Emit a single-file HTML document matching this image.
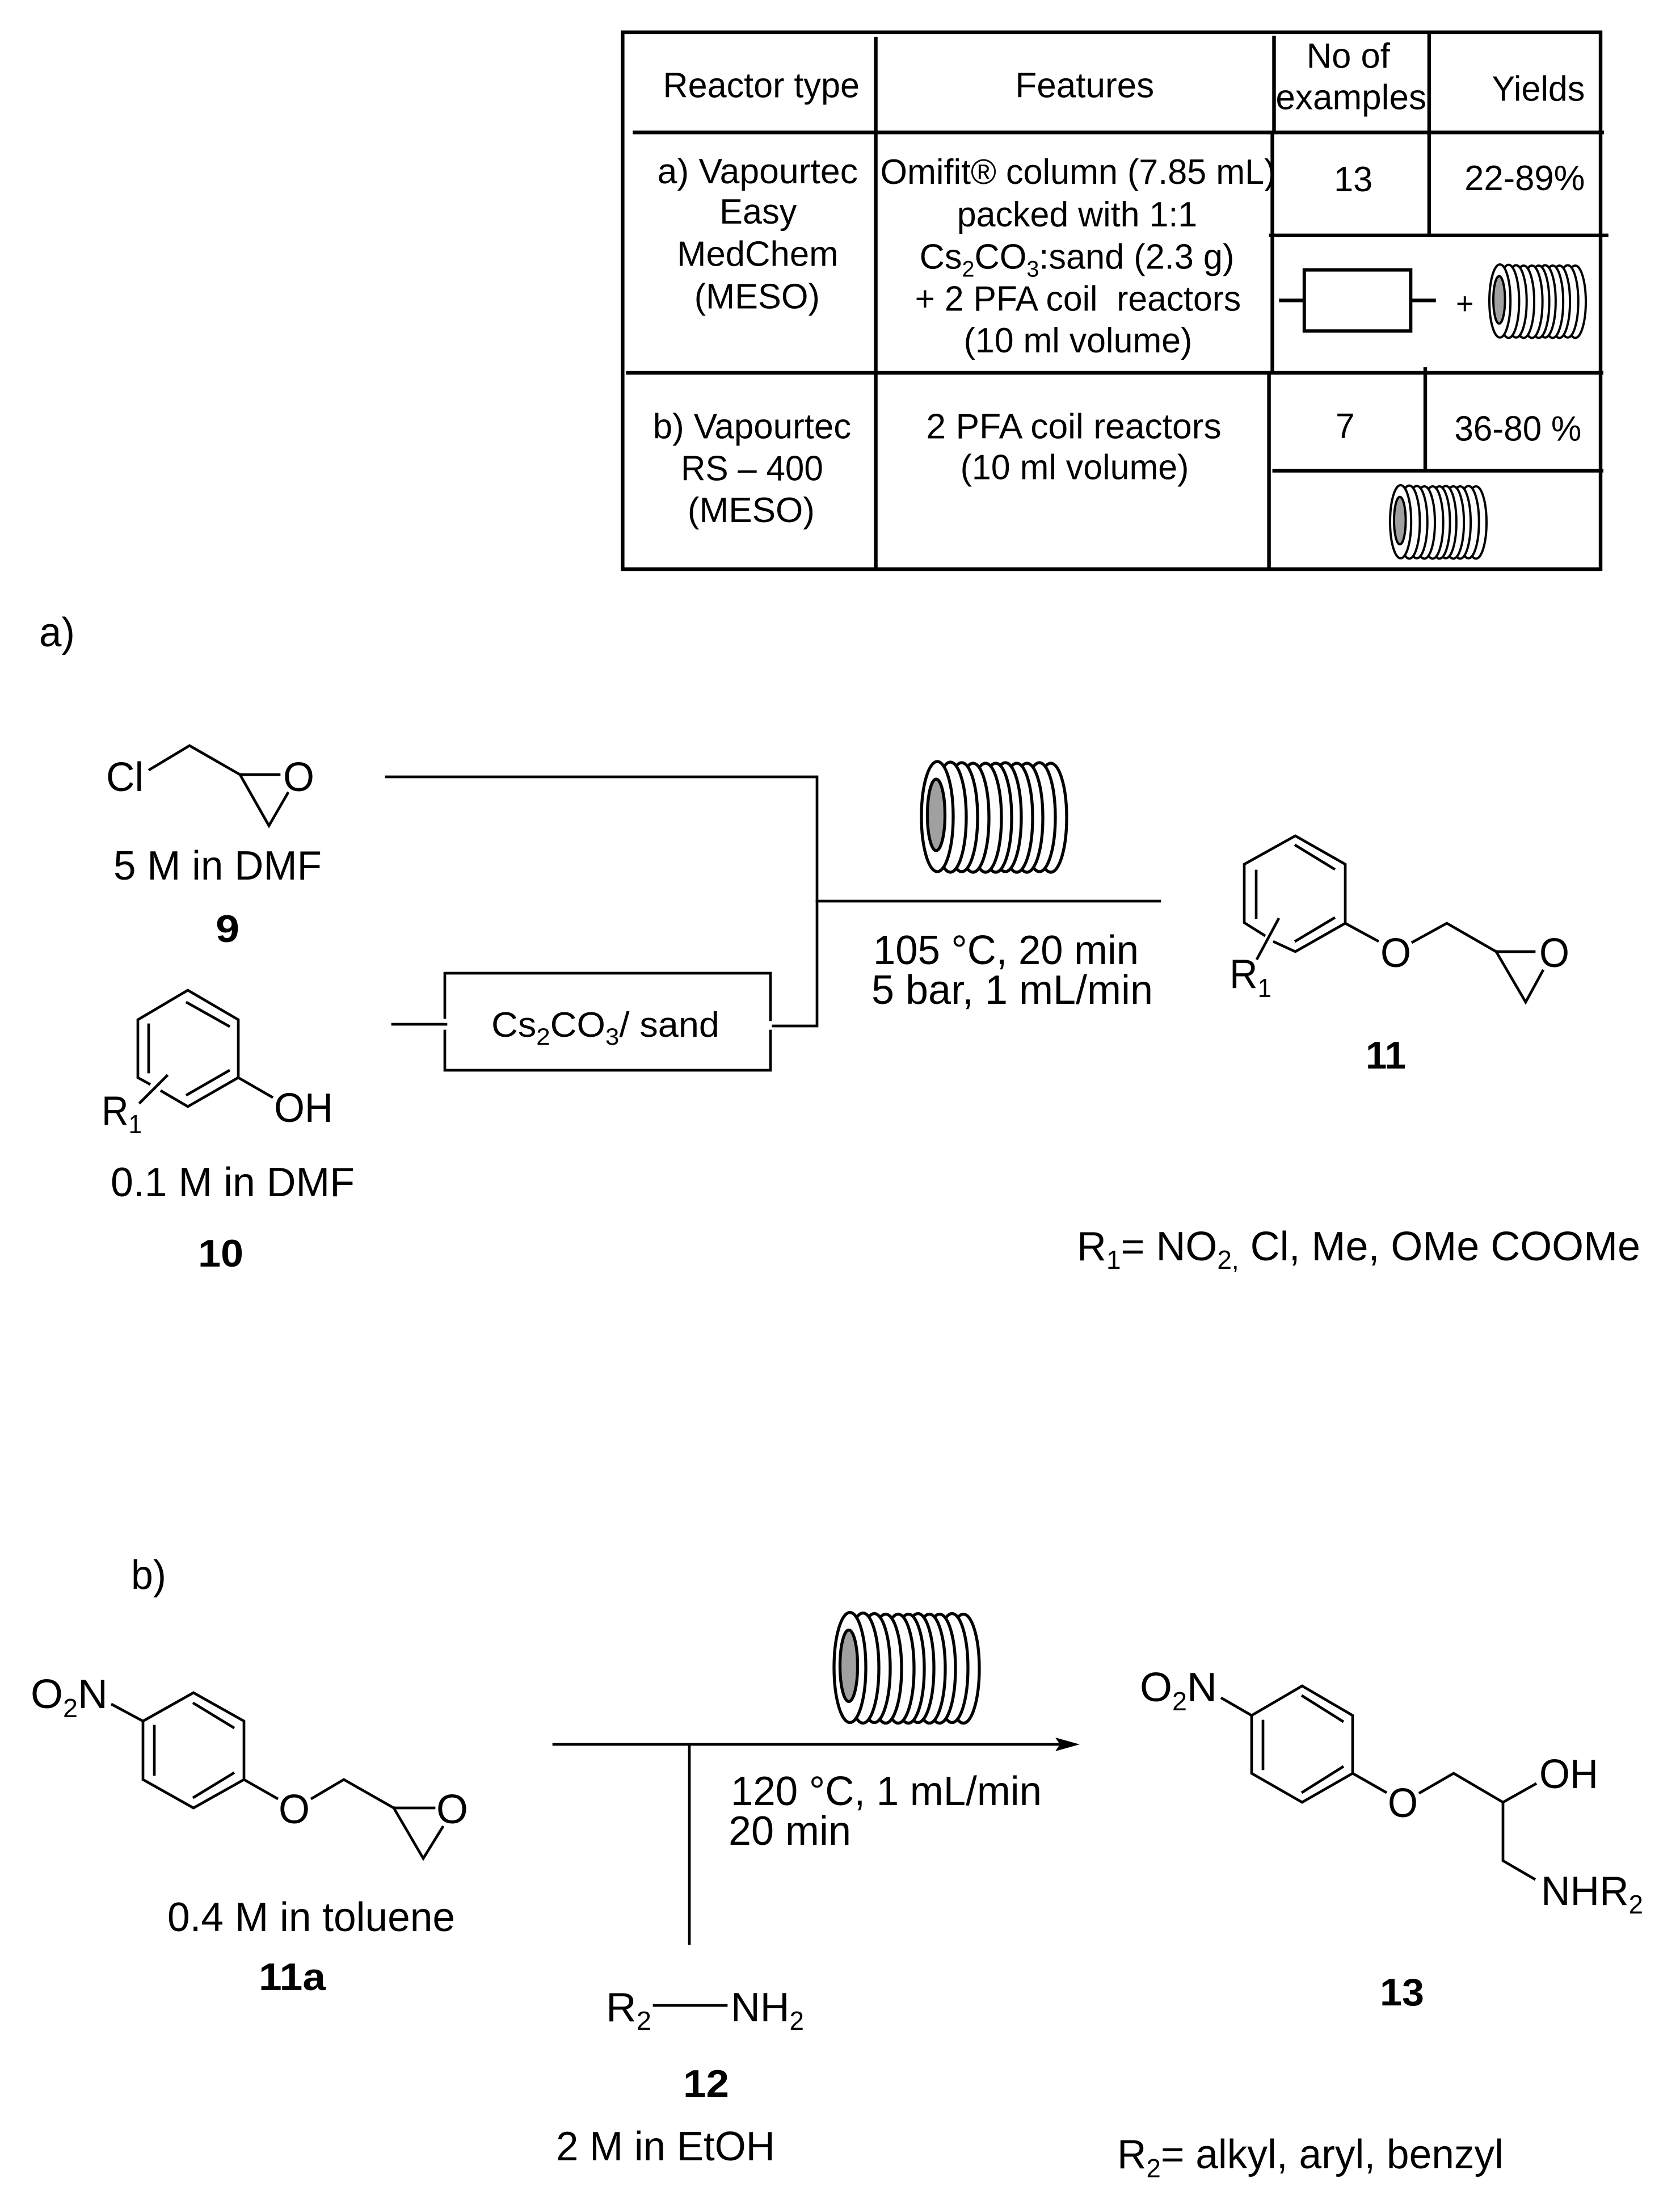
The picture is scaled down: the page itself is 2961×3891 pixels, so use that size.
<!DOCTYPE html>
<html><head><meta charset="utf-8"><style>
html,body{margin:0;padding:0;background:#fff}
svg{display:block}
text{font-family:"Liberation Sans",sans-serif;fill:#000;white-space:pre}
.t{font-size:62px}.m{font-size:72px}.b{font-size:68px;font-weight:bold}.s{font-size:62px}
line,polyline,polygon.l,rect.l{stroke:#000;stroke-width:4.7;fill:none;stroke-linecap:square;stroke-linejoin:miter}
.tb line{stroke-width:6.5;stroke-linecap:butt}
.c ellipse{fill:#fff;stroke:#000}
</style></head><body>
<svg xmlns="http://www.w3.org/2000/svg" width="2961" height="3891" viewBox="0 0 2961 3891">
<defs>
<g id="coil" class="c">
<ellipse cx="1852" cy="1441" rx="28" ry="96"/>
<ellipse cx="1832" cy="1440" rx="28" ry="96"/>
<ellipse cx="1810" cy="1441" rx="28" ry="96"/>
<ellipse cx="1792" cy="1441" rx="28" ry="96"/>
<ellipse cx="1772" cy="1440" rx="28" ry="96"/>
<ellipse cx="1755" cy="1441" rx="28" ry="96"/>
<ellipse cx="1737" cy="1441" rx="28" ry="96"/>
<ellipse cx="1715" cy="1441" rx="28" ry="96"/>
<ellipse cx="1695" cy="1440" rx="28" ry="96"/>
<ellipse cx="1675" cy="1440" rx="28" ry="97"/>
<ellipse cx="1652" cy="1439" rx="28" ry="97"/>
<ellipse cx="1650" cy="1436" rx="15.5" ry="63" style="fill:#a0a0a0"/>
</g>
</defs>
<rect width="2961" height="3891" fill="#fff"/>

<!-- table -->
<g transform="translate(1050 30) scale(.98718 .9969) translate(-1050 -30)">
<g class="tb">
<line x1="1095" y1="57" x2="2847" y2="57"/>
<line x1="1095" y1="1006" x2="2847" y2="1006"/>
<line x1="1098" y1="54" x2="1098" y2="1009"/>
<line x1="2844" y1="54" x2="2844" y2="1009"/>
<line x1="1550" y1="65" x2="1550" y2="1006"/>
<line x1="2261" y1="63" x2="2261" y2="234"/>
<line x1="2258" y1="234" x2="2258" y2="659"/>
<line x1="2252" y1="659" x2="2252" y2="1006"/>
<line x1="2538" y1="57" x2="2538" y2="416"/>
<line x1="2531" y1="649" x2="2531" y2="832"/>
<line x1="1116" y1="234" x2="2850" y2="234"/>
<line x1="2252" y1="416" x2="2858" y2="416"/>
<line x1="1104" y1="659" x2="2849" y2="659"/>
<line x1="2258" y1="832" x2="2849" y2="832"/>
<rect class="l" x="2315" y="477" width="190" height="108" style="stroke-width:6"/>
<line x1="2270" y1="531" x2="2315" y2="531"/>
<line x1="2505" y1="531" x2="2550" y2="531"/>
</g>
<g class="t">
<text x="1170" y="172" textLength="351" lengthAdjust="spacingAndGlyphs">Reactor type</text>
<text x="1799" y="172" textLength="248" lengthAdjust="spacingAndGlyphs">Features</text>
<text x="2319" y="120" textLength="149" lengthAdjust="spacingAndGlyphs">No of</text>
<text x="2264" y="193" textLength="269" lengthAdjust="spacingAndGlyphs">examples</text>
<text x="2650" y="178" textLength="166" lengthAdjust="spacingAndGlyphs">Yields</text>
<text x="1160" y="324" textLength="358" lengthAdjust="spacingAndGlyphs">a) Vapourtec</text>
<text x="1271" y="395" textLength="138" lengthAdjust="spacingAndGlyphs">Easy</text>
<text x="1195" y="470" textLength="288" lengthAdjust="spacingAndGlyphs">MedChem</text>
<text x="1226" y="545" textLength="224" lengthAdjust="spacingAndGlyphs">(MESO)</text>
<text x="1558" y="325" textLength="706" lengthAdjust="spacingAndGlyphs">Omifit® column (7.85 mL)</text>
<text x="1695" y="400" textLength="429" lengthAdjust="spacingAndGlyphs">packed with 1:1</text>
<text x="1628" y="475" textLength="562" lengthAdjust="spacingAndGlyphs">Cs<tspan font-size="40" dy="14">2</tspan><tspan dy="-14">CO</tspan><tspan font-size="40" dy="14">3</tspan><tspan dy="-14">:sand (2.3 g)</tspan></text>
<text x="1620" y="549" textLength="582" lengthAdjust="spacingAndGlyphs">+ 2 PFA coil  reactors</text>
<text x="1707" y="623" textLength="408" lengthAdjust="spacingAndGlyphs">(10 ml volume)</text>
<text x="2368" y="338" textLength="69" lengthAdjust="spacingAndGlyphs">13</text>
<text x="2601" y="336" textLength="215" lengthAdjust="spacingAndGlyphs">22-89%</text>
<text x="1152" y="775" textLength="354" lengthAdjust="spacingAndGlyphs">b) Vapourtec</text>
<text x="1202" y="849" textLength="254" lengthAdjust="spacingAndGlyphs">RS – 400</text>
<text x="1214" y="923" textLength="227" lengthAdjust="spacingAndGlyphs">(MESO)</text>
<text x="1640" y="775" textLength="527" lengthAdjust="spacingAndGlyphs">2 PFA coil reactors</text>
<text x="1701" y="847" textLength="408" lengthAdjust="spacingAndGlyphs">(10 ml volume)</text>
<text x="2371" y="774" textLength="34" lengthAdjust="spacingAndGlyphs">7</text>
<text x="2583" y="779" textLength="227" lengthAdjust="spacingAndGlyphs">36-80 %</text>
</g>
</g>
<text x="2566" y="553" style="font-size:54px">+</text>
<g transform="translate(2625 466) scale(.664) translate(-1624 -1342)"><use href="#coil" style="stroke-width:6"/></g>
<g transform="translate(2450 855) scale(.664) translate(-1624 -1342)"><use href="#coil" style="stroke-width:6"/></g>

<!-- a) -->
<g class="m">
<text x="69" y="1139" textLength="63" lengthAdjust="spacingAndGlyphs">a)</text>
<text x="187" y="1394" textLength="66" lengthAdjust="spacingAndGlyphs">Cl</text>
<text x="499" y="1394" textLength="55" lengthAdjust="spacingAndGlyphs">O</text>
<text x="200" y="1550" textLength="367" lengthAdjust="spacingAndGlyphs">5 M in DMF</text>
<text x="483" y="1977" textLength="104" lengthAdjust="spacingAndGlyphs">OH</text>
<text x="179" y="1982" textLength="71" lengthAdjust="spacingAndGlyphs">R<tspan font-size="46" dy="15">1</tspan></text>
<text x="195" y="2108" textLength="430" lengthAdjust="spacingAndGlyphs">0.1 M in DMF</text>
<text x="1539" y="1699" textLength="468" lengthAdjust="spacingAndGlyphs">105 °C, 20 min</text>
<text x="1536" y="1769" textLength="496" lengthAdjust="spacingAndGlyphs">5 bar, 1 mL/min</text>
<text x="2433" y="1704" textLength="54" lengthAdjust="spacingAndGlyphs">O</text>
<text x="2713" y="1704" textLength="53" lengthAdjust="spacingAndGlyphs">O</text>
<text x="2167" y="1741" textLength="74" lengthAdjust="spacingAndGlyphs">R<tspan font-size="46" dy="16">1</tspan></text>
<text x="1898" y="2221" textLength="993" lengthAdjust="spacingAndGlyphs">R<tspan font-size="46" dy="15">1</tspan><tspan dy="-15">= NO</tspan><tspan font-size="46" dy="15">2,</tspan><tspan dy="-15"> Cl, Me, OMe COOMe</tspan></text>
</g>
<g class="b">
<text x="380" y="1660" textLength="42" lengthAdjust="spacingAndGlyphs">9</text>
<text x="349" y="2232" textLength="80" lengthAdjust="spacingAndGlyphs">10</text>
<text x="2407" y="1883" textLength="71" lengthAdjust="spacingAndGlyphs">11</text>
</g>
<text class="s" x="866" y="1827" textLength="402" lengthAdjust="spacingAndGlyphs">Cs<tspan font-size="42" dy="14">2</tspan><tspan dy="-14">CO</tspan><tspan font-size="42" dy="14">3</tspan><tspan dy="-14">/ sand</tspan></text>

<!-- 9 -->
<polyline points="264,1356 334,1314 423,1365 492,1365"/>
<polyline points="423,1365 474,1455 507,1398"/>
<!-- connectors a -->
<polyline points="681,1369 1440,1369 1440,1808 1363,1808"/>
<line x1="1440" y1="1588" x2="2044" y2="1588"/>
<polyline points="784,1793 784,1715 1358,1715 1358,1797"/>
<polyline points="784,1817 784,1886 1358,1886 1358,1817"/>
<line x1="692" y1="1805" x2="786" y2="1805"/>
<use href="#coil" style="stroke-width:5.3"/>
<!-- 10 -->
<polyline points="420,1899 420,1797 331,1745 243,1797 243,1899 263,1910"/>
<polyline points="285,1923 331,1950 420,1899"/>
<line x1="330" y1="1767" x2="403" y2="1808"/>
<line x1="262" y1="1806" x2="262" y2="1889"/>
<line x1="330" y1="1929" x2="403" y2="1887"/>
<line x1="247" y1="1943" x2="294" y2="1896"/>
<line x1="420" y1="1899" x2="479" y2="1933"/>
<!-- 11 -->
<polyline points="2371,1627 2371,1523 2283,1473 2193,1523 2193,1626 2228,1648"/>
<polyline points="2246,1660 2283,1677 2371,1627"/>
<line x1="2284" y1="1490" x2="2351" y2="1531"/>
<line x1="2214" y1="1535" x2="2214" y2="1617"/>
<line x1="2284" y1="1658" x2="2351" y2="1618"/>
<line x1="2253" y1="1620" x2="2216" y2="1689"/>
<line x1="2371" y1="1627" x2="2428" y2="1658"/>
<polyline points="2490,1660 2550,1627 2637,1677 2704,1677"/>
<polyline points="2637,1677 2689,1766 2719,1711"/>

<!-- b) -->
<g class="m">
<text x="231" y="2800" textLength="62" lengthAdjust="spacingAndGlyphs">b)</text>
<text x="54" y="3010" textLength="136" lengthAdjust="spacingAndGlyphs">O<tspan font-size="46" dy="16">2</tspan><tspan dy="-16">N</tspan></text>
<text x="491" y="3213" textLength="55" lengthAdjust="spacingAndGlyphs">O</text>
<text x="769" y="3213" textLength="56" lengthAdjust="spacingAndGlyphs">O</text>
<text x="295" y="3403" textLength="507" lengthAdjust="spacingAndGlyphs">0.4 M in toluene</text>
<text x="1288" y="3181" textLength="548" lengthAdjust="spacingAndGlyphs">120 °C, 1 mL/min</text>
<text x="1284" y="3251" textLength="216" lengthAdjust="spacingAndGlyphs">20 min</text>
<text x="1068" y="3562" textLength="80" lengthAdjust="spacingAndGlyphs">R<tspan font-size="46" dy="15">2</tspan></text>
<text x="1288" y="3562" textLength="129" lengthAdjust="spacingAndGlyphs">NH<tspan font-size="46" dy="15">2</tspan></text>
<text x="980" y="3807" textLength="386" lengthAdjust="spacingAndGlyphs">2 M in EtOH</text>
<text x="2009" y="2998" textLength="136" lengthAdjust="spacingAndGlyphs">O<tspan font-size="46" dy="16">2</tspan><tspan dy="-16">N</tspan></text>
<text x="2446" y="3202" textLength="53" lengthAdjust="spacingAndGlyphs">O</text>
<text x="2713" y="3151" textLength="104" lengthAdjust="spacingAndGlyphs">OH</text>
<text x="2716" y="3357" textLength="180" lengthAdjust="spacingAndGlyphs">NHR<tspan font-size="46" dy="15">2</tspan></text>
<text x="1969" y="3821" textLength="681" lengthAdjust="spacingAndGlyphs">R<tspan font-size="46" dy="16">2</tspan><tspan dy="-16">= alkyl, aryl, benzyl</tspan></text>
</g>
<g class="b">
<text x="456" y="3507" textLength="118" lengthAdjust="spacingAndGlyphs">11a</text>
<text x="1204" y="3695" textLength="81" lengthAdjust="spacingAndGlyphs">12</text>
<text x="2432" y="3534" textLength="78" lengthAdjust="spacingAndGlyphs">13</text>
</g>
<!-- 11a -->
<line x1="198" y1="3004" x2="252" y2="3033"/>
<polygon class="l" points="252,3033 341,2983 430,3033 430,3136 341,3186 252,3136"/>
<line x1="342" y1="3002" x2="411" y2="3044"/>
<line x1="272" y1="3042" x2="272" y2="3127"/>
<line x1="342" y1="3167" x2="411" y2="3125"/>
<line x1="430" y1="3136" x2="488" y2="3169"/>
<polyline points="550,3169 606,3136 694,3186 765,3186"/>
<polyline points="694,3186 746,3275 780,3220"/>
<!-- connectors b -->
<line x1="976" y1="3074" x2="1866" y2="3074"/>
<polygon points="1903,3074 1860,3062 1868,3074 1860,3086" fill="#000"/>
<line x1="1215" y1="3078" x2="1215" y2="3425"/>
<line x1="1153" y1="3534" x2="1280" y2="3534"/>
<g transform="translate(-154 1499.5)"><use href="#coil" style="stroke-width:5.3"/></g>
<!-- 13 -->
<line x1="2154" y1="2993" x2="2206" y2="3023"/>
<polygon class="l" points="2206,3023 2295,2971 2384,3023 2384,3125 2295,3176 2206,3125"/>
<line x1="2296" y1="2989" x2="2366" y2="3033"/>
<line x1="2226" y1="3033" x2="2226" y2="3117"/>
<line x1="2296" y1="3158" x2="2366" y2="3114"/>
<line x1="2384" y1="3125" x2="2442" y2="3158"/>
<polyline points="2503,3159 2562,3125 2649,3176 2706,3144"/>
<polyline points="2649,3176 2649,3279 2704,3311"/>
</svg>
</body></html>
